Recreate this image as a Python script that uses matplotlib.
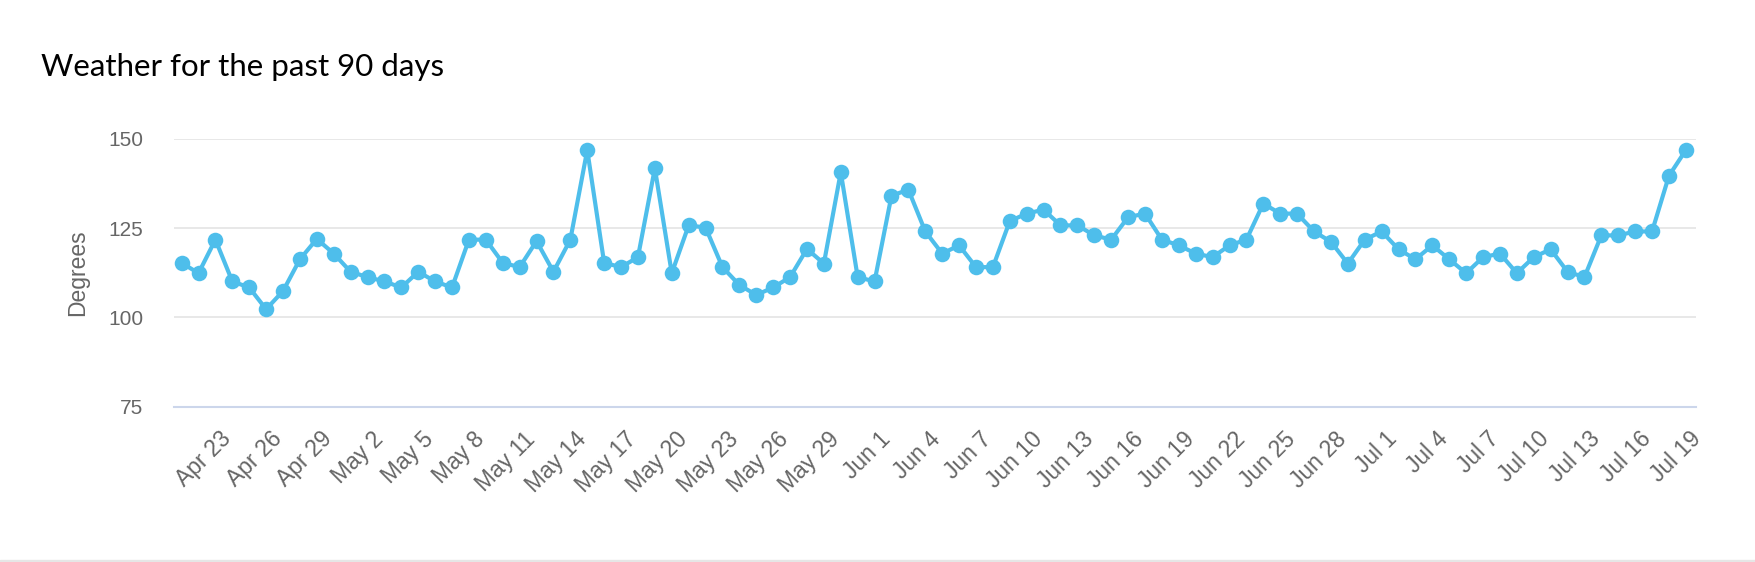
import numpy as np
import pandas as pd
import matplotlib
matplotlib.use("Agg")
import matplotlib.pyplot as plt
import matplotlib.transforms as mtransforms
from matplotlib.patches import Rectangle

# daily readings, Apr 21 .. Jul 19
dates = pd.date_range("2019-04-21", "2019-07-19", freq="D")
degrees = [115.3, 112.4, 121.8, 110.1, 108.4, 102.3, 107.4, 116.3, 122.0, 117.9,
           112.8, 111.3, 110.1, 108.4, 112.8, 110.1, 108.4, 121.8, 121.8, 115.3,
           114.1, 121.4, 112.8, 121.8, 146.9, 115.3, 114.1, 116.9, 141.8, 112.4,
           125.8, 125.2, 114.1, 109.1, 106.3, 108.4, 111.3, 119.2, 115.1, 140.7,
           111.3, 110.1, 134.1, 135.8, 124.1, 117.9, 120.2, 114.1, 114.1, 127.0,
           129.1, 130.2, 125.8, 125.8, 123.0, 121.8, 128.1, 129.1, 121.8, 120.2,
           117.9, 116.9, 120.2, 121.8, 131.9, 129.1, 129.1, 124.1, 121.2, 115.1,
           121.8, 124.1, 119.1, 116.3, 120.2, 116.3, 112.4, 116.9, 117.9, 112.4,
           116.9, 119.1, 112.8, 111.3, 123.0, 123.0, 124.1, 124.1, 139.7, 146.9]
y_ticks = [75, 100, 125, 150]
tick_idx = list(range(2, len(dates), 3))
tick_labels = [f"{dates[i]:%b} {dates[i].day}" for i in tick_idx]

W, H = 1756, 562
fig = plt.figure(figsize=(W / 100, H / 100), dpi=100)
ax = fig.add_axes([174 / W, 1 - 406.7 / H, (1696 - 174) / W, (406.7 - 139) / H])

x = np.arange(len(degrees))
ax.plot(x, degrees, color="#4ebeeb", lw=3.0, marker="o", ms=11.2,
        markeredgewidth=0, zorder=3, clip_on=False)

ax.set_xlim(-0.45, len(degrees) - 1 + 0.6)
ax.set_ylim(75, 150)
ax.set_yticks(y_ticks)
ax.set_yticklabels([str(v) for v in y_ticks], fontfamily="Liberation Sans",
                   fontsize=15, color="#666666")
ax.tick_params(axis="y", length=0, pad=22)
ax.set_xticks(tick_idx)
ax.set_xticklabels(tick_labels, fontfamily="Liberation Sans", fontsize=16.5,
                   color="#666666", rotation=45, ha="right", va="top",
                   rotation_mode="anchor")
ax.tick_params(axis="x", length=0, pad=15)
shift = mtransforms.ScaledTranslation(4 / 100, 0, fig.dpi_scale_trans)
for lab in ax.get_xticklabels():
    lab.set_transform(lab.get_transform() + shift)

for v in y_ticks[1:]:
    ax.axhline(v, color="#e6e6e6", lw=1.3, zorder=1)
for s in ["top", "right", "left"]:
    ax.spines[s].set_visible(False)
ax.spines["bottom"].set_color("#ccd6eb")
ax.spines["bottom"].set_linewidth(1.5)

fig.text(78 / W, 1 - 272.8 / H, "Degrees", rotation=90, ha="center", va="center",
         fontfamily="Liberation Sans", fontsize=16.5, color="#666666")
fig.text(41 / W, 1 - 76 / H, "Weather for the past 90 days", ha="left",
         va="baseline", fontfamily="Lato", fontsize=22.5, color="black")
fig.patches.append(Rectangle((0, 0), 1, 2 / H, transform=fig.transFigure,
                             color="#e6e6e6", zorder=0))

fig.savefig("out.png", dpi=100, facecolor="white")
